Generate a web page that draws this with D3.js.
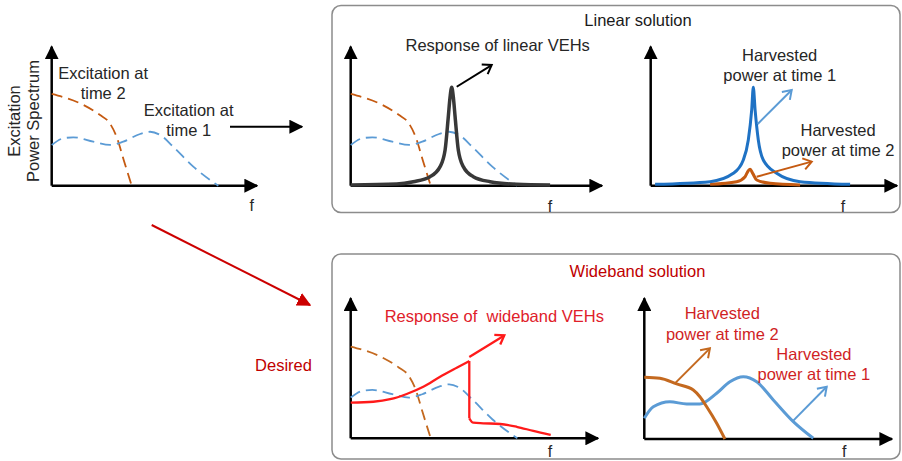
<!DOCTYPE html>
<html><head><meta charset="utf-8">
<script src="https://cdn.jsdelivr.net/npm/d3@7"></script>
<style>body{margin:0;background:#fff}svg{display:block}text{font-family:"Liberation Sans",Arial,sans-serif}</style>
</head><body>
<svg id="c" width="902" height="461"></svg>
<script>
// ---- data (frequency units, amplitude units) ----
const excitationTime2 = [[0,6.6],[1.6,5.8],[2.4,5.1],[2.9,4.5],[3.25,3.5],[3.6,1.85],[4.0,0]];
const excitationTime1 = [[0,2.93],[0.58,3.41],[1.08,3.48],[2.08,3.17],[2.92,2.93],[3.58,3.17],[4.42,3.72],[4.92,3.88],[5.42,3.65],[6.08,2.8],[7.08,1.37],[8.33,0]];
const linearResponse = [[0,0.05],[2.3,0.12],[3.13,0.29],[3.97,0.65],[4.47,1.37],[4.72,2.57],[4.88,4.96],[4.97,6.4],[5.05,7.08],[5.13,6.4],[5.22,4.96],[5.38,2.57],[5.63,1.37],[6.13,0.65],[6.97,0.29],[8.3,0.1],[9.97,0.05]];
const linHarvest1 = [[0.22,0.1],[2.97,0.29],[4.13,0.89],[4.63,1.85],[4.88,3.29],[5.05,5.45],[5.13,7.08],[5.22,5.45],[5.38,3.29],[5.63,1.85],[6.3,0.89],[7.47,0.29],[9.97,0.1]];
const linHarvest2 = [[2.97,0.1],[4.3,0.29],[4.72,0.65],[4.88,1.08],[4.97,1.18],[5.1,0.89],[5.3,0.41],[5.97,0.17],[7.47,0.05]];
const wideRise = [[0,2.56],[1.13,2.63],[1.97,2.81],[2.8,3.19],[3.63,3.71],[4.47,4.43],[5.3,5.08],[5.93,5.56]];
const wideTail = [[5.93,1.44],[6.13,1.12],[6.63,1.08],[7.47,1.03],[8.3,0.83],[9.13,0.53],[10.0,0.24]];
const wideHarvest1 = [[0,1.49],[0.45,2.32],[1.28,2.68],[2.12,2.52],[2.78,2.52],[3.62,3.29],[4.28,4.12],[4.95,4.48],[5.62,4.12],[6.45,2.81],[7.45,1.25],[8.45,0.05]];
const wideHarvest2 = [[0,4.44],[0.78,4.37],[1.62,3.96],[2.45,3.53],[2.78,3.04],[3.12,2.32],[3.62,1.13],[4.03,0]];
const axisLabel = "f";

const svg = d3.select("#c");
const C = {orange:"#c55a11", orange2:"#c4691f", lblue:"#5b9bd5", blue:"#1f72c4", dark:"#383838", red:"#ff1a1a", dred:"#c00000", txt:"#262626"};

// boxes
svg.append("rect").attr("x",332).attr("y",5.5).attr("width",568).attr("height",207).attr("rx",9)
  .attr("fill","#fff").attr("stroke","#8c8c8c").attr("stroke-width",1.5);
svg.append("rect").attr("x",332).attr("y",254).attr("width",568).attr("height",205).attr("rx",9)
  .attr("fill","#fff").attr("stroke","#8c8c8c").attr("stroke-width",1.5);

const defs = svg.append("defs");
function marker(id,color){
  defs.append("marker").attr("id",id).attr("viewBox","0 0 10 10").attr("refX",9).attr("refY",5)
   .attr("markerWidth",14).attr("markerHeight",14).attr("markerUnits","userSpaceOnUse").attr("orient","auto")
   .append("path").attr("d","M0,0L10,5L0,10Z").attr("fill",color);
}
marker("hk","#000"); marker("hr","#cc0000");

function panel(x0,y0,xTip,yTip,fx,fy){
  const x = d3.scaleLinear().domain([0,10]).range([x0,x0+200]);
  const y = d3.scaleLinear().domain([0,10]).range([y0,y0-139]);
  const g = svg.append("g");
  g.append("line").attr("x1",x0).attr("y1",y0).attr("x2",xTip).attr("y2",y0).attr("stroke","#000").attr("stroke-width",2.5).attr("marker-end","url(#hk)");
  g.append("line").attr("x1",x0).attr("y1",y0).attr("x2",x0).attr("y2",yTip).attr("stroke","#000").attr("stroke-width",2.5).attr("marker-end","url(#hk)");
  g.append("text").attr("x",fx).attr("y",fy).attr("dy","0.35em").attr("text-anchor","middle").attr("font-size",16).attr("fill",C.txt).text(axisLabel);
  return {x,y,g};
}
function curve(p,data,color,w,dash,cv){
  const line = d3.line().x(d=>p.x(d[0])).y(d=>p.y(d[1])).curve(cv||d3.curveMonotoneX);
  const path = p.g.append("path").attr("d",line(data)).attr("fill","none").attr("stroke",color).attr("stroke-width",w)
    .attr("stroke-linecap","butt").attr("stroke-linejoin","round");
  if(dash) path.attr("stroke-dasharray",dash);
  return path;
}
function chevArrow(p,a,b,color,w){
  const x1=p.x(a[0]),y1=p.y(a[1]),x2=p.x(b[0]),y2=p.y(b[1]);
  p.g.append("line").attr("x1",x1).attr("y1",y1).attr("x2",x2).attr("y2",y2).attr("stroke",color).attr("stroke-width",w);
  const ang=Math.atan2(y2-y1,x2-x1), L=10, s=0.6;
  const pts=[[x2-L*Math.cos(ang-s),y2-L*Math.sin(ang-s)],[x2,y2],[x2-L*Math.cos(ang+s),y2-L*Math.sin(ang+s)]];
  p.g.append("path").attr("d",d3.line()(pts)).attr("fill","none").attr("stroke",color).attr("stroke-width",w).attr("stroke-linejoin","miter");
}
function label(p,xy,lines,color,lh){
  lines.forEach((t,i)=>p.g.append("text").attr("x",p.x(xy[0])).attr("y",p.y(xy[1])+i*(lh||20.5)).attr("dy","0.35em")
    .attr("text-anchor","middle").attr("font-size",16.5).attr("fill",color).text(t));
}

// Panel 1
const p1 = panel(51.7,185.7,257,46.7,251.7,205);
curve(p1,excitationTime2,C.orange,1.8,"11,6");
curve(p1,excitationTime1,C.lblue,1.8,"11,6");
label(p1,[2.57,8.11],["Excitation at","time 2"],C.txt);
label(p1,[6.85,5.45],["Excitation at","time 1"],C.txt);
svg.append("text").attr("transform","translate(20,121) rotate(-90)").attr("text-anchor","middle").attr("font-size",16.5).attr("fill",C.txt).text("Excitation");
svg.append("text").attr("transform","translate(39,121) rotate(-90)").attr("text-anchor","middle").attr("font-size",16.5).attr("fill",C.txt).text("Power Spectrum");

// arrows between
svg.append("line").attr("x1",230).attr("y1",126.7).attr("x2",302).attr("y2",126.7).attr("stroke","#000").attr("stroke-width",2).attr("marker-end","url(#hk)");
svg.append("line").attr("x1",151.7).attr("y1",225).attr("x2",310).attr("y2",305).attr("stroke","#cc0000").attr("stroke-width",2).attr("marker-end","url(#hr)");
svg.append("text").attr("x",283.5).attr("y",365).attr("dy","0.35em").attr("text-anchor","middle").attr("font-size",16.5).attr("fill",C.dred).text("Desired");

// titles
svg.append("text").attr("x",638).attr("y",20).attr("dy","0.35em").attr("text-anchor","middle").attr("font-size",16.5).attr("fill","#1a1a1a").text("Linear solution");
svg.append("text").attr("x",637.5).attr("y",271.7).attr("dy","0.35em").attr("text-anchor","middle").attr("font-size",16.5).attr("fill",C.dred).text("Wideband solution");

// Panel 2
const p2 = panel(350.7,185.7,602,46.7,550,206.7);
curve(p2,excitationTime2,C.orange,1.8,"11,6");
curve(p2,excitationTime1,C.lblue,1.8,"11,6");
curve(p2,linearResponse,C.dark,3.5);
chevArrow(p2,[5.3,7.12],[7.05,8.68],"#000",2);
label(p2,[7.35,10.12],["Response of linear VEHs"],C.txt);

// Panel 3
const p3 = panel(650.7,185.7,897,46.7,843,206.7);
curve(p3,linHarvest2,C.orange,3);
curve(p3,linHarvest1,C.blue,3);
chevArrow(p3,[5.35,4.44],[7.05,6.88],C.lblue,2);
chevArrow(p3,[5.3,0.65],[8.05,1.73],C.orange,2);
label(p3,[6.45,9.4],["Harvested","power at time 1"],C.txt);
label(p3,[9.37,4.01],["Harvested","power at time 2"],C.txt);

// Panel 4
const p4 = panel(350.7,438.3,598,298.3,550,451.7);
curve(p4,excitationTime2,C.orange2,1.8,"11,6");
curve(p4,excitationTime1,C.lblue,1.8,"11,6");
curve(p4,wideRise,C.red,2.3);
curve(p4,[wideRise[wideRise.length-1],wideTail[0]],C.red,2.3,null,d3.curveLinear);
curve(p4,wideTail,C.red,2.3);
chevArrow(p4,[5.93,5.85],[7.68,7.4],C.red,2.3);
label(p4,[7.18,8.75],["Response of  wideband VEHs"].map(s=>s.replace("  ","\u00a0 ")),"#e0202a");

// Panel 5
const p5 = panel(644.3,439,892,298.3,844.3,451.7);
curve(p5,wideHarvest1,C.lblue,3);
curve(p5,wideHarvest2,C.orange2,3);
chevArrow(p5,[1.53,4.0],[3.28,6.52],C.orange2,2);
chevArrow(p5,[7.45,1.32],[9.12,3.76],C.lblue,2);
label(p5,[3.9,9.04],["Harvested","power at time 2"],"#d01f25");
label(p5,[8.48,6.12],["Harvested","power at time 1"],"#d01f25");
</script>
</body></html>
